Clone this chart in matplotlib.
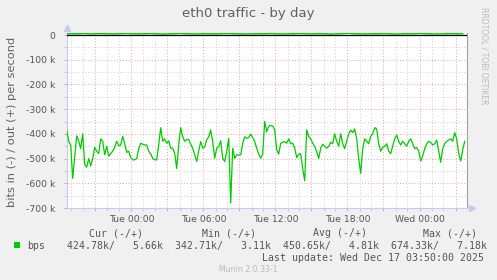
import pandas as pd
import matplotlib
matplotlib.use("Agg")
import matplotlib.pyplot as plt
import matplotlib.dates as mdates
from matplotlib.ticker import FuncFormatter, MultipleLocator
from matplotlib.patches import Rectangle

# bits in (k), 10 minute samples starting Mon 18:36
in_k = [-385, -430, -445, -580, -495, -408, -428, -460, -400, -525, -535, -500, -530, -500, -455, -470, -480,
        -420, -430, -485, -450, -490, -480, -470, -455, -430, -448, -445, -410, -440, -475, -470, -495, -505,
        -505, -500, -460, -438, -442, -445, -445, -470, -482, -498, -505, -505, -445, -375, -430, -420, -438,
        -428, -458, -458, -478, -540, -445, -375, -411, -430, -423, -423, -442, -458, -485, -512,
        -469, -431, -458, -453, -424, -412, -384, -431, -499, -458, -451, -428, -499, -512, -472, -418, -680,
        -458, -499, -485, -485, -485, -438, -412, -418, -415, -401, -415, -431, -458, -482, -499, -482, -350,
        -391, -370, -366, -368, -384, -465, -482, -438, -434, -431, -438, -420, -440, -438, -458, -496, -482,
        -481, -540, -590, -384, -411, -420, -438, -451, -472, -499, -458, -442, -451, -458, -451, -434,
        -440, -400, -430, -450, -400, -440, -460, -430, -400, -385, -395, -380, -420, -500, -560, -460, -420,
        -430, -440, -410, -400, -375, -380, -440, -470, -455, -450, -440, -470, -480, -450, -420, -405, -430,
        -445, -430, -440, -450, -430, -420, -440, -460, -455, -470, -510, -490, -460, -440, -430, -435, -445,
        -440, -425, -470, -515, -460, -440, -430, -425, -420, -430, -395, -420, -480, -510, -465, -430]
# bits out (k), 30 minute samples
out_k = [4.5, 5.2, 4.8, 6.1, 4.3, 5.0, 5.8, 4.6, 4.2, 5.5, 6.4, 4.9, 4.4, 5.1, 5.9, 4.7, 3.8, 4.5, 5.3, 6.8,
         5.0, 4.6, 4.1, 5.4, 4.8, 4.3, 5.6, 6.2, 4.9, 4.5, 3.9, 4.7, 5.2, 4.6, 5.8, 4.4, 4.0, 4.9, 5.5, 6.0,
         4.7, 4.3, 5.1, 4.8, 3.6, 4.5, 5.7, 7.0, 5.2, 4.6, 4.2, 5.0, 4.8, 5.9, 4.4, 3.9, 4.6, 5.3, 4.9, 6.3,
         5.1, 4.5, 4.0, 4.8, 5.5, 5.0, 5.7]

headers = ["Cur (-/+)", "Min (-/+)", "Avg (-/+)", "Max (-/+)"]
values_line = "424.78k/   5.66k  342.71k/   3.11k  450.65k/   4.81k  674.33k/   7.18k"
last_update = "Last update: Wed Dec 17 03:50:00 2025"

t_in = pd.date_range("2025-12-15 18:36", periods=len(in_k), freq="10min")
t_out = pd.date_range("2025-12-15 18:36", periods=len(out_k), freq="30min")

W, H = 497, 280
fig = plt.figure(figsize=(W / 100, H / 100), dpi=100, facecolor="#F0F0F0")
ax = fig.add_axes([66.7 / W, 1 - 208 / H, 400 / W, 175 / H], facecolor="white")

green = "#00CC00"
ax.plot(t_in, [v * 1000 for v in in_k], color=green, lw=0.9, zorder=3)
ax.axhline(0, color="black", lw=0.9, zorder=3)
ax.plot(t_out, [v * 1000 for v in out_k], color=green, lw=1.1, zorder=4)

ax.set_xlim(pd.Timestamp("2025-12-15 18:36"), pd.Timestamp("2025-12-17 03:56"))
ax.set_ylim(-700000, 8200)

# grid
ax.xaxis.set_major_locator(mdates.HourLocator(byhour=range(0, 24, 3)))
ax.xaxis.set_minor_locator(mdates.HourLocator())
ax.xaxis.set_major_formatter(FuncFormatter(
    lambda x, p: mdates.num2date(x).strftime("%a %H:%M") if mdates.num2date(x).hour % 6 == 0 else ""))
ax.yaxis.set_major_locator(MultipleLocator(100000))
ax.yaxis.set_minor_locator(MultipleLocator(50000))
ax.yaxis.set_major_formatter(FuncFormatter(lambda v, p: "0" if v == 0 else "%d k" % round(v / 1000)))

ax.grid(which="minor", color="#CFCFCF", lw=0.7, ls=(0, (1, 2)), zorder=1)
ax.grid(which="major", color="#E8A0A0", lw=0.7, ls=(0, (1, 2)), zorder=2)

ax.tick_params(which="both", length=2, width=0.6, color="#C8A0A0", labelsize=6.7, labelcolor="#555555", pad=3)
ax.tick_params(which="minor", color="#C8C8C8")
ax.tick_params(axis="y", pad=6)

ax.spines["top"].set_visible(False)
ax.spines["left"].set_color("#C8C8F0")
ax.spines["bottom"].set_color("#C8C8F0")
ax.spines["right"].set_color("#A0A0A0")
for s in ["left", "bottom", "right"]:
    ax.spines[s].set_linewidth(0.8)

# axis arrows
ax.plot([0], [1.03], marker="^", ms=4, color="#C8C8F0", transform=ax.transAxes, clip_on=False)
ax.plot([1.012], [0], marker=">", ms=4, color="#C8C8F0", transform=ax.transAxes, clip_on=False)

fig.text(0.5, 1 - 13 / H, "eth0 traffic - by day", ha="center", va="center", fontsize=9.5, color="#606060")
fig.text(12 / W, 1 - 122 / H, "bits in (-) / out (+) per second", rotation=90, ha="center", va="center",
         fontsize=8.2, color="#606060")
fig.text(484 / W, 1 - 56 / H, "RRDTOOL / TOBI OETIKER", rotation=-90, ha="center", va="center",
         fontsize=5.5, color="#BBBBBB")

mono = "DejaVu Sans Mono"
for hx, h in zip([89.3, 201.7, 312.7, 423.3], headers):
    fig.text(hx / W, 1 - 233 / H, h, ha="left", va="center", family=mono, fontsize=7.15, color="#555555")
fig.patches.append(Rectangle((14 / W, 1 - 248 / H), 6 / W, 6 / H, transform=fig.transFigure,
                             facecolor=green, edgecolor="none"))
fig.text(26.7 / W, 1 - 246 / H, "bps", ha="left", va="center", family=mono, fontsize=7.15, color="#555555")
fig.text(66.7 / W, 1 - 246 / H, values_line, ha="left", va="center", family=mono, fontsize=7.15, color="#555555")
fig.text(261.7 / W, 1 - 257.7 / H, last_update, ha="left", va="center", family=mono, fontsize=7.15,
         color="#555555")
fig.text(0.5, 1 - 269 / H, "Munin 2.0.33-1", ha="center", va="center", fontsize=5.6, color="#BBBBBB")

fig.savefig("out.png", dpi=100, facecolor=fig.get_facecolor())
